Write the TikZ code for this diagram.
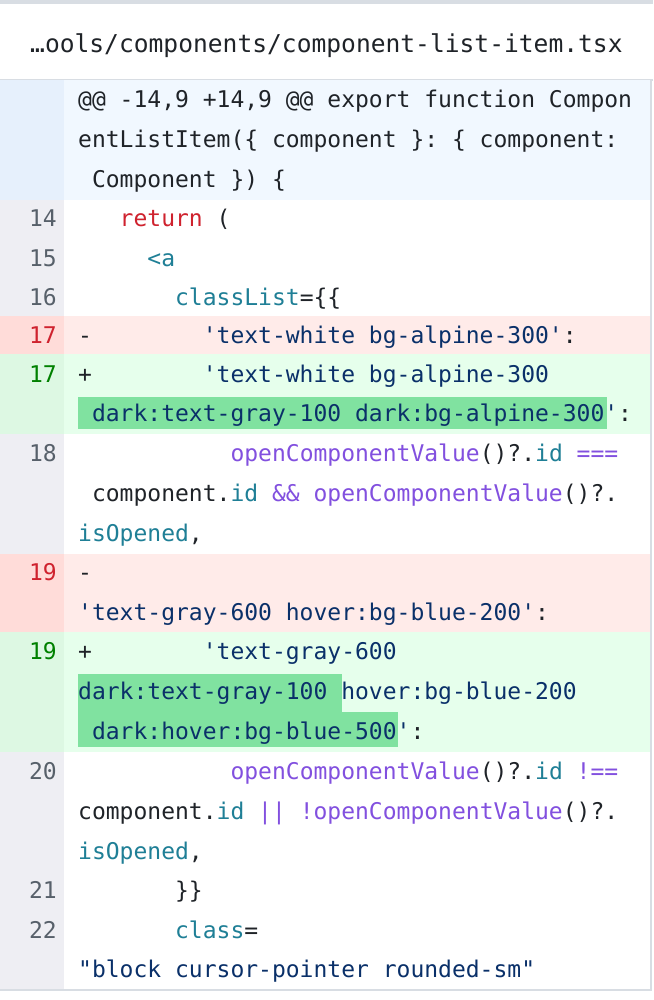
\documentclass[tikz,border=0pt]{standalone}
\usepackage{fontspec}
\newfontfamily\codefont{DejaVu Sans Mono}
\definecolor{kw}{HTML}{CF222E}
\definecolor{tl}{HTML}{1F7F96}
\definecolor{st}{HTML}{0A3069}
\definecolor{fn}{HTML}{8250DF}
\definecolor{tx}{HTML}{1F2328}
\definecolor{gnum}{HTML}{57606A}
\definecolor{hunkbg}{HTML}{F1F8FF}
\definecolor{hunkg}{HTML}{E6F0FC}
\definecolor{neug}{HTML}{EEEEF3}
\definecolor{delbg}{HTML}{FFEBE9}
\definecolor{delg}{HTML}{FFDCD9}
\definecolor{addbg}{HTML}{E6FFEC}
\definecolor{addg}{HTML}{DDF8E3}
\definecolor{hl}{HTML}{80E2A0}
\definecolor{bord}{HTML}{D8DDE3}
\newcommand\codeline[4]{\node[code] (#1) at (78,#2) {#3#4};}
\newcommand\gnum[4]{\node[gut,text=#4] (#1) at (57,#2) {#3};}
\begin{document}
\begin{tikzpicture}[x=1pt,y=-1pt,
  code/.style={anchor=base west,inner sep=0pt,font=\codefont\fontsize{23}{23}\selectfont,text=tx},
  gut/.style={anchor=base east,inner sep=0pt,font=\codefont\fontsize{23}{23}\selectfont},
  row/.style={fill=#1,draw=none}]
\useasboundingbox (0,0) rectangle (653,1000);
\fill[white] (0,0) rectangle (653,1000);
\fill[bord] (0,0) rectangle (653,4);
\node[anchor=base west,inner sep=0pt,font=\codefont\fontsize{24.6}{24.6}\selectfont,text=tx] (title) at (30,53) {…ools/components/component-list-item.tsx};
\draw[bord,line width=1.2pt] (0,80) -- (653,80);
% backgrounds
\fill[hunkbg] (0,80) rectangle (651,200); \fill[hunkg] (0,80) rectangle (64,200);
\fill[neug] (0,200) rectangle (64,316);
\fill[delbg] (0,316) rectangle (651,354); \fill[delg] (0,316) rectangle (64,354);
\fill[addbg] (0,354) rectangle (651,434); \fill[addg] (0,354) rectangle (64,434);
\fill[neug] (0,434) rectangle (64,554);
\fill[delbg] (0,554) rectangle (651,632); \fill[delg] (0,554) rectangle (64,632);
\fill[addbg] (0,632) rectangle (651,752); \fill[addg] (0,632) rectangle (64,752);
\fill[neug] (0,752) rectangle (64,990);
\fill[hl] (78,397) rectangle (607,429);
\fill[hl] (78,674) rectangle (342,712);
\fill[hl] (78,712) rectangle (398,747);
\draw[bord,line width=1.2pt] (651,80) -- (651,990) -- (0,990);
% hunk
\codeline{h1}{108}{}{@@~-14,9~+14,9~@@~export~function~Compon}
\codeline{h2}{148}{}{entListItem(\{~component~\}:~\{~component:}
\codeline{h3}{188}{}{~Component~\})~\{}
% lines
\gnum{n14}{227}{14}{gnum}
\codeline{c14}{227}{}{~~~\textcolor{kw}{return}~(}
\gnum{n15}{266}{15}{gnum}
\codeline{c15}{266}{}{~~~~~\textcolor{tl}{<a}}
\gnum{n16}{305}{16}{gnum}
\codeline{c16}{305}{}{~~~~~~~\textcolor{tl}{classList}=\{\{}
\gnum{n17d}{343}{17}{kw}
\codeline{c17d}{343}{}{-~~~~~~~~\textcolor{st}{'text-white~bg-alpine-300'}:}
\gnum{n17a}{382}{17}{green!50!black}
\codeline{c17a}{382}{}{+~~~~~~~~\textcolor{st}{'text-white~bg-alpine-300}}
\codeline{c17b}{421}{}{\textcolor{st}{~dark:text-gray-100~dark:bg-alpine-300'}:}
\gnum{n18}{461}{18}{gnum}
\codeline{c18a}{461}{}{~~~~~~~~~~~\textcolor{fn}{openComponentValue}()?.\textcolor{tl}{id}~\textcolor{fn}{===}}
\codeline{c18b}{501}{}{~component.\textcolor{tl}{id}~\textcolor{fn}{\&\&}~\textcolor{fn}{openComponentValue}()?.}
\codeline{c18c}{541}{}{\textcolor{tl}{isOpened},}
\gnum{n19d}{580}{19}{kw}
\codeline{c19d}{580}{}{-}
\codeline{c19e}{620}{}{\textcolor{st}{'text-gray-600~hover:bg-blue-200'}:}
\gnum{n19a}{659}{19}{green!50!black}
\codeline{c19a}{659}{}{+~~~~~~~~\textcolor{st}{'text-gray-600}}
\codeline{c19b}{699}{}{\textcolor{st}{dark:text-gray-100~hover:bg-blue-200}}
\codeline{c19c}{739}{}{\textcolor{st}{~dark:hover:bg-blue-500'}:}
\gnum{n20}{779}{20}{gnum}
\codeline{c20a}{779}{}{~~~~~~~~~~~\textcolor{fn}{openComponentValue}()?.\textcolor{tl}{id}~\textcolor{fn}{!==}}
\codeline{c20b}{819}{}{component.\textcolor{tl}{id}~\textcolor{fn}{||}~\textcolor{fn}{!openComponentValue}()?.}
\codeline{c20c}{859}{}{\textcolor{tl}{isOpened},}
\gnum{n21}{898}{21}{gnum}
\codeline{c21}{898}{}{~~~~~~~\}\}}
\gnum{n22}{938}{22}{gnum}
\codeline{c22a}{938}{}{~~~~~~~\textcolor{tl}{class}=}
\codeline{c22b}{977}{}{\textcolor{st}{"block~cursor-pointer~rounded-sm"}}
\end{tikzpicture}
\end{document}
